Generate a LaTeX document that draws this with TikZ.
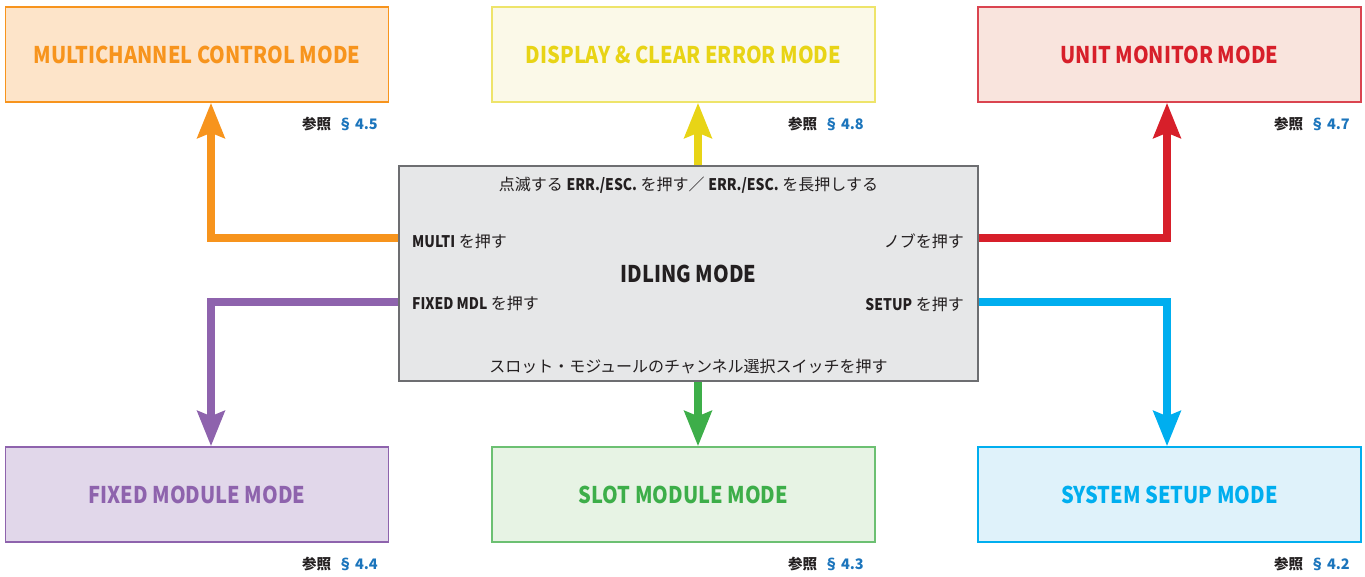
\documentclass[tikz,border=0pt]{standalone}
\usepackage{fontspec}
\setmainfont{Noto Sans CJK JP}
\newfontfamily\condf{Noto Sans CJK JP}[FakeStretch=0.87]
\usetikzlibrary{arrows.meta}
\definecolor{cOr}{HTML}{F7941D}\definecolor{fOr}{HTML}{FDE4C9}
\definecolor{cYe}{HTML}{E8D416}\definecolor{bYe}{HTML}{EEE46A}\definecolor{fYe}{HTML}{FBF9E8}
\definecolor{cRe}{HTML}{D71F2A}\definecolor{bRe}{HTML}{DA4450}\definecolor{fRe}{HTML}{F9E4DD}
\definecolor{cPu}{HTML}{8E63AD}\definecolor{fPu}{HTML}{E1D7EA}
\definecolor{cGr}{HTML}{3DAE49}\definecolor{bGr}{HTML}{6CC072}\definecolor{fGr}{HTML}{E7F3E4}
\definecolor{cBl}{HTML}{00AEEF}\definecolor{fBl}{HTML}{DFF2FA}
\definecolor{cGy}{HTML}{6D6E71}\definecolor{fGy}{HTML}{E6E7E8}
\definecolor{refblue}{HTML}{1C75BC}
\definecolor{txt}{HTML}{231F20}
\newcommand{\lb}[1]{{\condf\bfseries #1}}
\begin{document}
\begin{tikzpicture}[x=1pt,y=-1pt,
  modebox/.style={minimum width=383pt, minimum height=95pt, line width=1.5pt, inner sep=0pt,
    font=\condf\bfseries\fontsize{23}{26}\selectfont},
  idlebox/.style={draw=cGy, fill=fGy, line width=1.5pt, minimum width=579pt, minimum height=215pt, inner sep=0pt},
  lab/.style={inner sep=0pt, text=txt, font=\fontsize{16}{19}\selectfont},
  reflab/.style={anchor=east, inner sep=0pt, text=txt, font=\bfseries\fontsize{14.5}{17}\selectfont},
  arr/.style={line width=8pt, line join=miter, -{Stealth[length=35pt,width=27pt,inset=5pt]}}]
\useasboundingbox (0,0) rectangle (1365,577);
% mode boxes
\node[modebox, draw=cOr, fill=fOr, text=cOr] (mc) at (197,54.5) {MULTICHANNEL CONTROL MODE};
\node[modebox, draw=bYe, fill=fYe, text=cYe] (dc) at (683.5,54.5) {DISPLAY \& CLEAR ERROR MODE};
\node[modebox, draw=bRe, fill=fRe, text=cRe] (um) at (1169.5,54.5) {UNIT MONITOR MODE};
\node[modebox, draw=cPu, fill=fPu, text=cPu] (fm) at (197,494.5) {FIXED MODULE MODE};
\node[modebox, draw=bGr, fill=fGr, text=cGr] (sm) at (683.5,494.5) {SLOT MODULE MODE};
\node[modebox, draw=cBl, fill=fBl, text=cBl] (ss) at (1169.5,494.5) {SYSTEM SETUP MODE};
% references
\node[reflab] (r1) at (378,124) {参照\hspace{7pt}\textcolor{refblue}{§\,4.5}};
\node[reflab] (r2) at (864,124) {参照\hspace{7pt}\textcolor{refblue}{§\,4.8}};
\node[reflab] (r3) at (1350,124) {参照\hspace{7pt}\textcolor{refblue}{§\,4.7}};
\node[reflab] (r4) at (378,564) {参照\hspace{7pt}\textcolor{refblue}{§\,4.4}};
\node[reflab] (r5) at (864,564) {参照\hspace{7pt}\textcolor{refblue}{§\,4.3}};
\node[reflab] (r6) at (1350,564) {参照\hspace{7pt}\textcolor{refblue}{§\,4.2}};
% idle box
\node[idlebox] (idle) at (688.5,273.5) {};
\node[inner sep=0pt, text=txt, font=\condf\bfseries\fontsize{23}{26}\selectfont] (it) at (688.5,274) {IDLING MODE};
\node[lab] (t1) at (688.5,185) {点滅する \lb{ERR./ESC.} を押す／ \lb{ERR./ESC.} を長押しする};
\node[lab, anchor=west] (t2) at (412,241) {\lb{MULTI} を押す};
\node[lab, anchor=east] (t3) at (964,241) {ノブを押す};
\node[lab, anchor=west] (t4) at (412,303) {\lb{FIXED MDL} を押す};
\node[lab, anchor=east] (t5) at (964,304) {\lb{SETUP} を押す};
\node[lab] (t6) at (688.5,366) {スロット・モジュールのチャンネル選択スイッチを押す};
% arrows
\draw[arr, cOr] (idle.west |- 0,238) -- (211,238) -- (211,0 |- mc.south);
\draw[arr, cPu] (idle.west |- 0,302) -- (211,302) -- (211,0 |- fm.north);
\draw[arr, cRe] (idle.east |- 0,238) -- (1167,238) -- (1167,0 |- um.south);
\draw[arr, cBl] (idle.east |- 0,302) -- (1167,302) -- (1167,0 |- ss.north);
\draw[arr, cYe] (698,0 |- idle.north) -- (698,0 |- dc.south);
\draw[arr, cGr] (698,0 |- idle.south) -- (698,0 |- sm.north);
\end{tikzpicture}
\end{document}
